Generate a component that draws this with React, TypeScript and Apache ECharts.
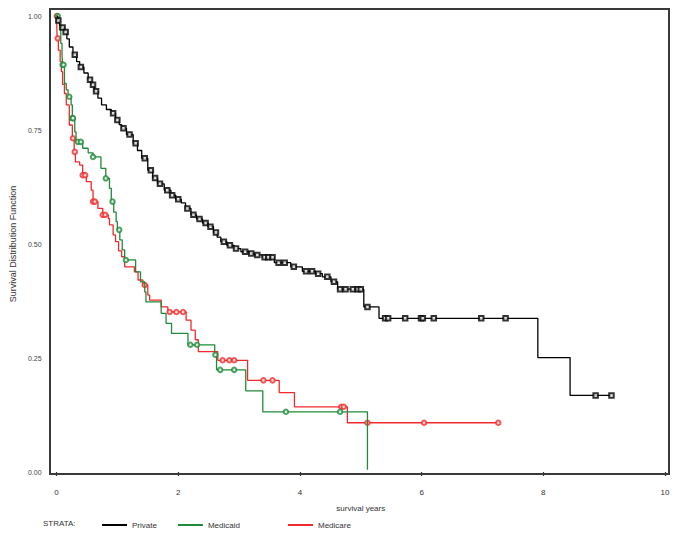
import React, { useEffect, useRef } from "react";
import * as echarts from "echarts";

// ---- Data ----
const xTicks = [0, 2, 4, 6, 8, 10];
const yTicks = [0, 0.25, 0.5, 0.75, 1.0];

// Private: event times (years) and survival after each step
const privateT = [0, 0.02, 0.05, 0.08, 0.13, 0.17, 0.21, 0.27, 0.33, 0.38, 0.45, 0.52, 0.57, 0.62, 0.68, 0.74, 0.82, 0.9, 0.97, 1.03, 1.07, 1.15, 1.26, 1.33, 1.4, 1.5, 1.58, 1.66, 1.77, 1.88, 1.96, 2.05, 2.12, 2.21, 2.3, 2.4, 2.49, 2.58, 2.64, 2.7, 2.8, 2.92, 3.03, 3.17, 3.25, 3.38, 3.58, 3.85, 4.04, 4.26, 4.37, 4.51, 4.62, 5.05, 5.3, 7.91, 8.44, 9.12];
const privateS = [1.0, 0.99, 0.98, 0.975, 0.965, 0.95, 0.932, 0.915, 0.9, 0.888, 0.875, 0.86, 0.849, 0.835, 0.82, 0.805, 0.795, 0.787, 0.772, 0.762, 0.754, 0.74, 0.721, 0.705, 0.688, 0.662, 0.645, 0.632, 0.618, 0.607, 0.598, 0.59, 0.578, 0.564, 0.555, 0.546, 0.538, 0.525, 0.515, 0.505, 0.497, 0.49, 0.483, 0.479, 0.476, 0.471, 0.459, 0.45, 0.44, 0.435, 0.428, 0.417, 0.401, 0.362, 0.337, 0.251, 0.168, 0.168];
const privateCensor = [0.03, 0.1, 0.15, 0.3, 0.4, 0.55, 0.6, 0.65, 0.93, 1.0, 1.1, 1.2, 1.3, 1.45, 1.55, 1.62, 1.7, 1.82, 1.9, 2.0, 2.15, 2.25, 2.35, 2.45, 2.53, 2.62, 2.75, 2.85, 2.95, 3.1, 3.2, 3.3, 3.42, 3.48, 3.55, 3.65, 3.75, 3.9, 4.1, 4.2, 4.3, 4.45, 4.56, 4.66, 4.75, 4.87, 4.95, 5.0, 5.11, 5.4, 5.45, 5.73, 5.99, 6.02, 6.2, 6.98, 7.38, 8.86, 9.12];

// Medicaid
const medicaidT = [0, 0.03, 0.05, 0.07, 0.09, 0.1, 0.13, 0.16, 0.19, 0.24, 0.26, 0.3, 0.32, 0.43, 0.52, 0.6, 0.73, 0.81, 0.87, 0.9, 0.94, 0.98, 1.0, 1.04, 1.08, 1.12, 1.3, 1.38, 1.45, 1.47, 1.72, 1.8, 1.89, 2.16, 2.6, 2.63, 3.11, 3.39, 5.11];
const medicaidS = [1.0, 0.985, 0.97, 0.94, 0.915, 0.893, 0.852, 0.838, 0.823, 0.805, 0.776, 0.746, 0.724, 0.71, 0.7, 0.691, 0.666, 0.644, 0.622, 0.593, 0.57, 0.549, 0.531, 0.509, 0.487, 0.465, 0.439, 0.417, 0.395, 0.373, 0.348, 0.326, 0.304, 0.279, 0.257, 0.224, 0.178, 0.132, 0.005];
const medicaidCensor = [0.02, 0.1, 0.115, 0.21, 0.26, 0.27, 0.35, 0.4, 0.6, 0.81, 0.92, 1.03, 1.14, 2.2, 2.31, 2.61, 2.69, 2.92, 3.77, 4.66];

// Medicare
const medicareT = [0, 0.01, 0.03, 0.06, 0.08, 0.1, 0.13, 0.16, 0.21, 0.26, 0.29, 0.31, 0.38, 0.43, 0.49, 0.57, 0.6, 0.68, 0.76, 0.85, 0.87, 0.93, 0.97, 1.02, 1.07, 1.12, 1.28, 1.34, 1.42, 1.5, 1.53, 1.72, 1.83, 2.13, 2.21, 2.28, 2.33, 2.65, 3.14, 3.66, 3.91, 4.78, 7.27];
const medicareS = [1.0, 0.951, 0.925, 0.9, 0.878, 0.85, 0.83, 0.805, 0.761, 0.732, 0.702, 0.68, 0.673, 0.651, 0.637, 0.618, 0.593, 0.578, 0.564, 0.556, 0.542, 0.52, 0.505, 0.485, 0.472, 0.45, 0.439, 0.421, 0.41, 0.388, 0.377, 0.362, 0.351, 0.333, 0.311, 0.29, 0.264, 0.245, 0.201, 0.174, 0.143, 0.108, 0.108];
const medicareCensor = [0.005, 0.02, 0.27, 0.3, 0.43, 0.47, 0.6, 0.63, 0.76, 0.8, 1.45, 1.86, 1.97, 2.08, 2.73, 2.84, 2.92, 3.4, 3.55, 4.68, 4.72, 5.11, 6.04, 7.26];

const strata = ["Private", "Medicaid", "Medicare"];
const colors = ["#000000", "#1f8a3a", "#f02a2a"];
const symbols = ["emptyRect", "emptyCircle", "emptyCircle"];

const pairs = (t: number[], s: number[]) => t.map((v, i) => [v, s[i]]);
const survAt = (t: number[], s: number[], x: number) => {
  let v = s[0];
  for (let i = 0; i < t.length; i++) if (t[i] <= x) v = s[i];
  return v;
};

const FONT = "Liberation Sans, Arial, sans-serif";

export default function App() {
  const ref = useRef<HTMLDivElement>(null);
  useEffect(() => {
    if (!ref.current) return;
    const chart = echarts.init(ref.current, undefined, { renderer: "svg" });
    const curves = [
      [privateT, privateS, privateCensor],
      [medicaidT, medicaidS, medicaidCensor],
      [medicareT, medicareS, medicareCensor],
    ] as number[][][];
    const series: any[] = [];
    curves.forEach(([t, s], i) => {
      series.push({
        name: strata[i],
        type: "line",
        step: "end",
        showSymbol: false,
        data: pairs(t, s),
        lineStyle: { color: colors[i], width: 1.3 },
        itemStyle: { color: colors[i] },
        z: 3 - i + 2,
      });
    });
    curves.forEach(([t, s, c], i) => {
      series.push({
        name: strata[i],
        type: "scatter",
        symbol: symbols[i],
        symbolSize: 4.5,
        data: c.map((x) => [x, survAt(t, s, x)]),
        itemStyle: { color: colors[i], borderColor: colors[i], borderWidth: 1.2 },
        z: 3 - i + 2,
      });
    });
    const legendBase = {
      top: 516,
      icon: "rect",
      itemWidth: 25,
      itemHeight: 2,
      selectedMode: false,
      textStyle: { fontSize: 8, color: "#333", fontFamily: FONT },
    };
    chart.setOption({
      animation: false,
      backgroundColor: "#ffffff",
      textStyle: { fontFamily: FONT },
      grid: { left: 55, right: 11, top: 16, bottom: 67 },
      xAxis: {
        type: "value",
        min: xTicks[0],
        max: xTicks[xTicks.length - 1],
        interval: 2,
        offset: 2,
        name: "survival years",
        nameLocation: "middle",
        nameGap: 30,
        nameTextStyle: { fontSize: 8, color: "#333", fontFamily: FONT },
        axisLine: { show: false },
        axisTick: { show: true, length: 4, lineStyle: { color: "#333", width: 1.2 } },
        axisLabel: { fontSize: 8, color: "#333", margin: 14, fontFamily: FONT },
        splitLine: { show: false },
      },
      yAxis: {
        type: "value",
        min: yTicks[0],
        max: yTicks[yTicks.length - 1],
        interval: 0.25,
        name: "Survival Distribution Function",
        nameLocation: "middle",
        nameGap: 38,
        nameTextStyle: { fontSize: 9, color: "#333", fontFamily: FONT },
        axisLine: { show: false },
        axisTick: { show: false },
        axisLabel: {
          fontSize: 7,
          color: "#444",
          margin: 15,
          fontFamily: FONT,
          formatter: (v: number) => v.toFixed(2),
        },
        splitLine: { show: false },
      },
      legend: [
        { ...legendBase, data: strata.slice(0, 2), left: 97, itemGap: 21 },
        { ...legendBase, data: strata.slice(2), left: 283 },
      ],
      graphic: [
        {
          type: "rect",
          shape: { x: 50, y: 9, width: 619, height: 465 },
          style: { fill: "none", stroke: "#3a3a3a", lineWidth: 2 },
          z: 10,
          silent: true,
        },
        {
          type: "text",
          x: 43,
          y: 523,
          style: { text: "STRATA:", fontSize: 8, fill: "#333", fontFamily: FONT, verticalAlign: "middle" },
        },
      ],
      series,
    });
    return () => chart.dispose();
  }, []);
  return (
    <div
      ref={ref}
      style={{ position: "absolute", left: 0, top: 0, width: 676, height: 539 }}
    />
  );
}
